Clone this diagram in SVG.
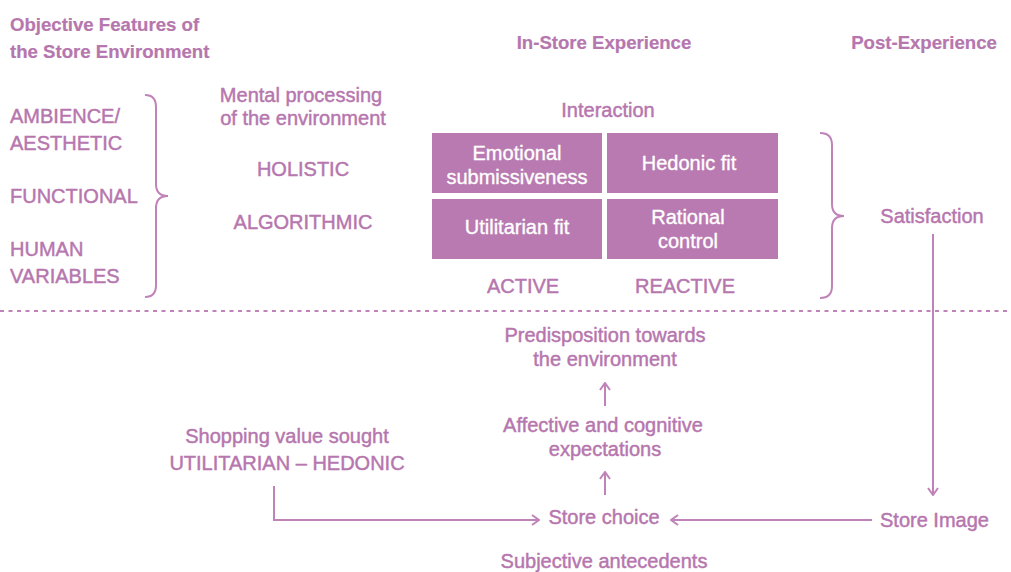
<svg xmlns="http://www.w3.org/2000/svg" width="1011" height="572" viewBox="0 0 1011 572">
  <defs>
    <style>
      text { font-family: "Liberation Sans", Arial, sans-serif; font-size: 20px; fill: #b676ae; stroke: #b676ae; stroke-width: 0.45; }
      .head { font-weight: bold; font-size: 18.6px; stroke-width: 0.2; }
      .mid { text-anchor: middle; }
      .box { fill: #b97ab1; }
      .boxtxt { fill: #ffffff; stroke: #ffffff; stroke-width: 0.35; text-anchor: middle; }
      .ln { fill: none; stroke: #c083b9; stroke-width: 2; }
      .dash { fill: none; stroke: #c083b9; stroke-width: 2; stroke-dasharray: 4 4.5; }
    </style>
    <marker id="chev" viewBox="0 0 10 12" refX="9" refY="6" markerWidth="10" markerHeight="12" markerUnits="userSpaceOnUse" orient="auto">
      <path d="M2,1 L9,6 L2,11" fill="none" stroke="#c083b9" stroke-width="2"/>
    </marker>
  </defs>

  <!-- column headings -->
  <g id="headings">
    <text class="head" x="10" y="31">Objective Features of</text>
    <text class="head" x="10" y="58">the Store Environment</text>
    <text class="head mid" x="604" y="49">In-Store Experience</text>
    <text class="head mid" x="924" y="49">Post-Experience</text>
  </g>

  <!-- objective features -->
  <g id="features">
    <text x="10" y="123">AMBIENCE/</text>
    <text x="10" y="150">AESTHETIC</text>
    <text x="10" y="203">FUNCTIONAL</text>
    <text x="10" y="256">HUMAN</text>
    <text x="10" y="283">VARIABLES</text>
  </g>

  <!-- mental processing -->
  <g id="mental-processing">
    <text class="mid" x="301" y="102">Mental processing</text>
    <text class="mid" x="303" y="125">of the environment</text>
    <text class="mid" x="303" y="176">HOLISTIC</text>
    <text class="mid" x="303" y="229">ALGORITHMIC</text>
  </g>

  <!-- interaction grid -->
  <g id="interaction">
    <text class="mid" x="608" y="117">Interaction</text>
    <rect class="box" x="432" y="133" width="170" height="60"/>
    <rect class="box" x="607" y="133" width="171" height="60"/>
    <rect class="box" x="432" y="199" width="170" height="60"/>
    <rect class="box" x="607" y="199" width="171" height="60"/>
    <text class="boxtxt" x="517" y="160">Emotional</text>
    <text class="boxtxt" x="517" y="184">submissiveness</text>
    <text class="boxtxt" x="689" y="170">Hedonic fit</text>
    <text class="boxtxt" x="517" y="234">Utilitarian fit</text>
    <text class="boxtxt" x="688" y="224">Rational</text>
    <text class="boxtxt" x="688" y="248">control</text>
    <text class="mid" x="523" y="293">ACTIVE</text>
    <text class="mid" x="685" y="293">REACTIVE</text>
  </g>

  <g id="satisfaction">
    <text class="mid" x="932" y="223">Satisfaction</text>
  </g>

  <!-- lower half -->
  <g id="predisposition">
    <text class="mid" x="605" y="342">Predisposition towards</text>
    <text class="mid" x="605" y="366">the environment</text>
  </g>
  <g id="expectations">
    <text class="mid" x="603" y="432">Affective and cognitive</text>
    <text class="mid" x="605" y="456">expectations</text>
  </g>
  <g id="store-choice">
    <text class="mid" x="604" y="524">Store choice</text>
  </g>
  <g id="antecedents">
    <text class="mid" x="604" y="568">Subjective antecedents</text>
  </g>
  <g id="shopping-value">
    <text class="mid" x="287" y="443">Shopping value sought</text>
    <text class="mid" x="287" y="470">UTILITARIAN – HEDONIC</text>
  </g>
  <g id="store-image">
    <text x="880" y="527">Store Image</text>
  </g>

  <!-- braces, divider and arrows -->
  <g id="connectors">
    <path class="ln" d="M145,95 Q156,95 156,107 L156,184 Q156,196 168,196 Q156,196 156,208 L156,285 Q156,297 145,297"/>
    <path class="ln" d="M820,133 Q832,133 832,145 L832,204 Q832,216 844,216 Q832,216 832,228 L832,286 Q832,298 820,298"/>
    <line class="dash" x1="0" y1="311" x2="1011" y2="311"/>
    <line class="ln" x1="933" y1="234" x2="933" y2="495" marker-end="url(#chev)"/>
    <line class="ln" x1="872" y1="520" x2="671" y2="520" marker-end="url(#chev)"/>
    <polyline class="ln" points="274,486 274,520 539,520" marker-end="url(#chev)"/>
    <line class="ln" x1="605" y1="495" x2="605" y2="472" marker-end="url(#chev)"/>
    <line class="ln" x1="605" y1="406" x2="605" y2="383" marker-end="url(#chev)"/>
  </g>
</svg>
